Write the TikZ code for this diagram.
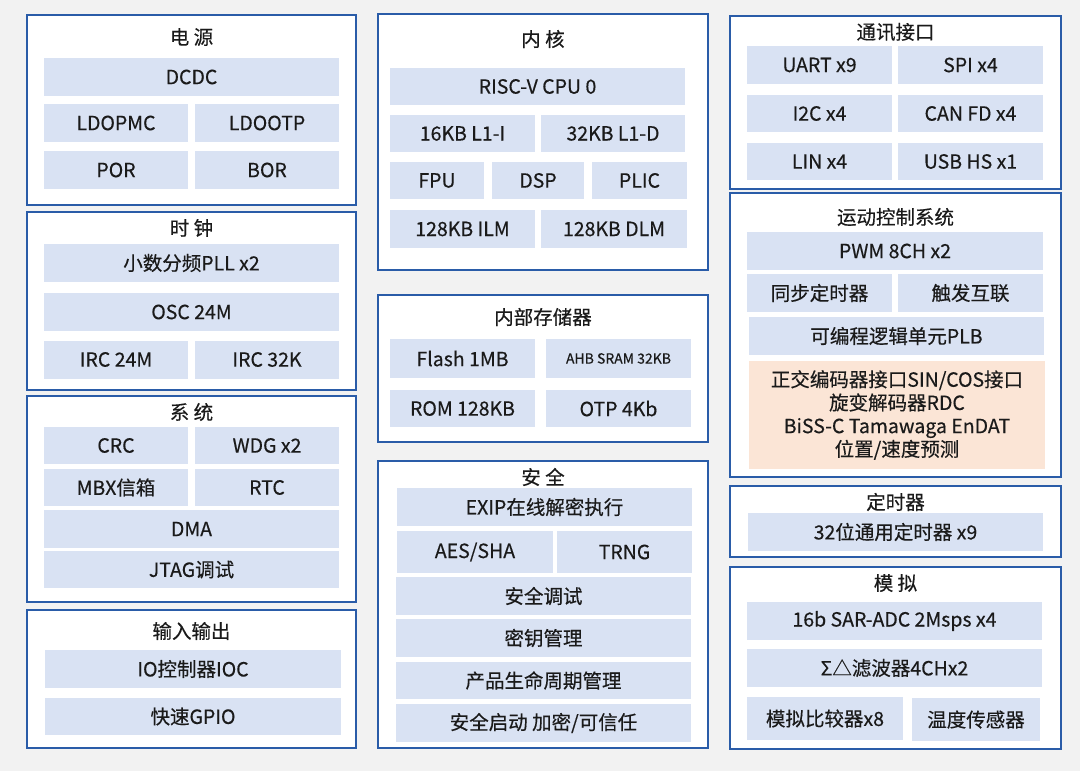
\documentclass[tikz,border=0pt]{standalone}
\usepackage{fontspec}
\setmainfont{Noto Sans CJK SC}[FakeBold=0.4]
\definecolor{pagegray}{HTML}{F2F2F2}
\definecolor{frameblue}{HTML}{2A5CA8}
\definecolor{cellblue}{HTML}{D9E2F3}
\definecolor{cellorange}{HTML}{FBE5D6}
\definecolor{textdark}{HTML}{1A1A1A}
\begin{document}
\begin{tikzpicture}[x=1pt,y=-1pt]
\tikzset{panel/.style={draw=frameblue, line width=2pt, fill=white, inner sep=0pt},
  paneltitle/.style={text=textdark, inner sep=0pt, font=\fontsize{19.5}{22}\selectfont},
  cell/.style={fill=cellblue, inner sep=0pt, text=textdark, font=\fontsize{19.5}{22}\selectfont},
  halfcell/.style={cell, minimum width=144, minimum height=38},
  widecell/.style={cell, minimum width=295, minimum height=38}}
\fill[pagegray] (0,0) rectangle (1080,771);
\useasboundingbox (0,0) rectangle (1080,771);
% left column
\node[panel, minimum width=329, minimum height=190] (power) at (191.5,110) {};
\node[panel, minimum width=329, minimum height=178] (clock) at (191.5,301) {};
\node[panel, minimum width=329, minimum height=206] (system) at (191.5,499) {};
\node[panel, minimum width=329, minimum height=138] (io) at (191.5,679) {};
\node[paneltitle] (powert) at (191.5,37) {电 源};
\node[widecell] (dcdc) at (191.5,77) {DCDC};
\node[halfcell] (ldopmc) at (116,123) {LDOPMC};
\node[halfcell] (ldootp) at (267,123) {LDOOTP};
\node[halfcell] (por) at (116,170) {POR};
\node[halfcell] (bor) at (267,170) {BOR};
\node[paneltitle] (clockt) at (191.5,228) {时 钟};
\node[widecell] (pll) at (191.5,263) {小数分频PLL x2};
\node[widecell] (osc) at (191.5,312) {OSC 24M};
\node[halfcell] (irca) at (116,359.5) {IRC 24M};
\node[halfcell] (ircb) at (267,359.5) {IRC 32K};
\node[paneltitle] (systemt) at (191.5,412) {系 统};
\node[halfcell, minimum height=37] (crc) at (116,445.5) {CRC};
\node[halfcell, minimum height=37] (wdg) at (267,445.5) {WDG x2};
\node[halfcell, minimum height=37] (mbx) at (116,487.5) {MBX信箱};
\node[halfcell, minimum height=37] (rtc) at (267,487.5) {RTC};
\node[widecell] (dma) at (191.5,529) {DMA};
\node[widecell, minimum height=37] (jtag) at (191.5,569.5) {JTAG调试};
\node[paneltitle] (iot) at (191.5,631) {输入输出};
\node[widecell, minimum width=296] (ioc) at (193,669) {IO控制器IOC};
\node[widecell, minimum width=296, minimum height=37] (gpio) at (193,716.5) {快速GPIO};
% middle column
\node[panel, minimum width=330, minimum height=256] (core) at (543,142) {};
\node[panel, minimum width=330, minimum height=147] (memory) at (543,368.5) {};
\node[panel, minimum width=330, minimum height=287] (security) at (543,604.5) {};
\node[paneltitle] (coret) at (543,39) {内 核};
\node[widecell, minimum height=37] (cpu) at (537.5,86.5) {RISC-V CPU 0};
\node[halfcell, minimum width=145, minimum height=37] (lonei) at (462.5,133.5) {16KB L1-I};
\node[halfcell, minimum height=37] (loned) at (613,133.5) {32KB L1-D};
\node[cell, minimum width=94, minimum height=37] (fpu) at (437,180.5) {FPU};
\node[cell, minimum width=92, minimum height=37] (dsp) at (538,180.5) {DSP};
\node[cell, minimum width=95, minimum height=37] (plic) at (639.5,180.5) {PLIC};
\node[halfcell, minimum width=145] (ilm) at (462.5,229) {128KB ILM};
\node[halfcell, minimum width=146] (dlm) at (614,229) {128KB DLM};
\node[paneltitle] (memoryt) at (543,317) {内部存储器};
\node[halfcell, minimum width=145, minimum height=39] (flash) at (462.5,358.5) {Flash 1MB};
\node[halfcell, minimum width=145, minimum height=39, font=\fontsize{14}{16}\selectfont] (sram) at (618.5,358.5) {AHB SRAM 32KB};
\node[halfcell, minimum width=145, minimum height=37] (rom) at (462.5,408.5) {ROM 128KB};
\node[halfcell, minimum width=145, minimum height=37] (otp) at (618.5,408.5) {OTP 4Kb};
\node[paneltitle] (securityt) at (543,477) {安 全};
\node[widecell] (exip) at (544.5,507) {EXIP在线解密执行};
\node[cell, minimum width=156, minimum height=42] (aes) at (475,552) {AES/SHA};
\node[cell, minimum width=135, minimum height=42] (trng) at (624.5,552) {TRNG};
\node[widecell] (secdbg) at (543.5,596) {安全调试};
\node[widecell] (keymgmt) at (543.5,638) {密钥管理};
\node[widecell, minimum height=37] (lifecycle) at (543.5,680.5) {产品生命周期管理};
\node[widecell] (secboot) at (543.5,723) {安全启动 加密/可信任};
% right column
\node[panel, minimum width=331, minimum height=173] (comm) at (895.5,102.5) {};
\node[panel, minimum width=331, minimum height=284] (motion) at (895.5,335) {};
\node[panel, minimum width=331, minimum height=71] (timer) at (895.5,521.5) {};
\node[panel, minimum width=331, minimum height=182] (analog) at (895.5,658) {};
\node[paneltitle] (commt) at (895.5,32) {通讯接口};
\node[halfcell, minimum width=145] (uart) at (819.5,65) {UART x9};
\node[halfcell, minimum width=145] (spi) at (970.5,65) {SPI x4};
\node[halfcell, minimum width=145, minimum height=37] (iic) at (819.5,113.5) {I2C x4};
\node[halfcell, minimum width=145, minimum height=37] (can) at (970.5,113.5) {CAN FD x4};
\node[halfcell, minimum width=145, minimum height=37] (lin) at (819.5,161.5) {LIN x4};
\node[halfcell, minimum width=145, minimum height=37] (usb) at (970.5,161.5) {USB HS x1};
\node[paneltitle] (motiont) at (895.5,217) {运动控制系统};
\node[widecell, minimum width=296] (pwm) at (895,251) {PWM 8CH x2};
\node[halfcell, minimum width=145] (synctmr) at (819.5,293) {同步定时器};
\node[halfcell, minimum width=145] (trigger) at (970.5,293) {触发互联};
\node[widecell] (plb) at (896.5,336) {可编程逻辑单元PLB};
\node[cell, fill=cellorange, minimum width=296, minimum height=108, align=center, font=\fontsize{19.5}{23.2}\selectfont] (encoder) at (897,415) {正交编码器接口SIN/COS接口\\旋变解码器RDC\\BiSS-C Tamawaga EnDAT\\位置/速度预测};
\node[paneltitle] (timert) at (895.5,502) {定时器};
\node[widecell] (gptmr) at (895.5,532) {32位通用定时器 x9};
\node[paneltitle] (analogt) at (895.5,583) {模 拟};
\node[widecell] (adc) at (894.5,621) {16b SAR-ADC 2Msps x4};
\node[widecell] (sdm) at (894.5,668) {Σ△滤波器4CHx2};
\node[cell, minimum width=156, minimum height=43] (acmp) at (825,718.5) {模拟比较器x8};
\node[cell, minimum width=128, minimum height=43] (tsns) at (976,719.5) {温度传感器};
\end{tikzpicture}
\end{document}
